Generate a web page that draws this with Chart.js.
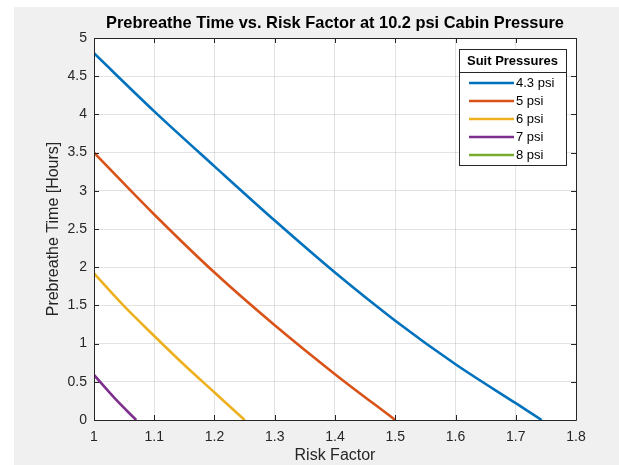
<!DOCTYPE html>
<html>
<head>
<meta charset="utf-8">
<script src="https://cdn.jsdelivr.net/npm/chart.js@4/dist/chart.umd.min.js"></script>
<style>
  html, body { margin: 0; padding: 0; background: #ffffff; }
  canvas { display: block; }
</style>
</head>
<body>
<canvas id="prebreathe" width="619" height="465"></canvas>
<script>
// --- Данные: время предварительного дыхания vs. фактор риска ---
const suitLabels = ['4.3 psi', '5 psi', '6 psi', '7 psi', '8 psi'];
const suitColors = ['#0072BD', '#D95319', '#EDB120', '#7E2F8E', '#77AC30'];

const risk43 = [1, 1.1, 1.2, 1.3, 1.4, 1.5, 1.6, 1.7, 1.743];
const time43 = [4.8, 4.04, 3.32, 2.61, 1.93, 1.3, 0.73, 0.22, 0];
const risk5 = [1, 1.1, 1.2, 1.3, 1.4, 1.5];
const time5 = [3.5, 2.69, 1.93, 1.24, 0.6, 0];
const risk6 = [1, 1.05, 1.1, 1.15, 1.2, 1.25];
const time6 = [1.92, 1.49, 1.1, 0.72, 0.36, 0];
const risk7 = [1, 1.035, 1.07];
const time7 = [0.59, 0.28, 0];
const risk8 = [];
const time8 = [];

const xTickValues = [1, 1.1, 1.2, 1.3, 1.4, 1.5, 1.6, 1.7, 1.8];
const xTickLabels = ['1', '1.1', '1.2', '1.3', '1.4', '1.5', '1.6', '1.7', '1.8'];
const yTickValues = [0, 0.5, 1, 1.5, 2, 2.5, 3, 3.5, 4, 4.5, 5];
const yTickLabels = ['0', '0.5', '1', '1.5', '2', '2.5', '3', '3.5', '4', '4.5', '5'];

const chartTitle = 'Prebreathe Time vs. Risk Factor at 10.2 psi Cabin Pressure';
const legendTitle = 'Suit Pressures';

const AXIS_COLOR = '#262626';
const FONT = '"Liberation Sans", Arial, sans-serif';

function toPoints(xs, ys) {
    return xs.map((x, i) => ({ x: x, y: ys[i] }));
}

const seriesX = [risk43, risk5, risk6, risk7, risk8];
const seriesY = [time43, time5, time6, time7, time8];

const datasets = suitLabels.map((label, i) => ({
    label: label,
    data: toPoints(seriesX[i], seriesY[i]),
    borderColor: suitColors[i],
    backgroundColor: suitColors[i],
    borderWidth: 2.6,
    pointRadius: 0,
    fill: false,
    cubicInterpolationMode: 'monotone'
}));

// --- Фон фигуры: серый, белая область осей ---
const backgroundPlugin = {
    id: 'figureBackground',
    beforeDraw(chart) {
        const { ctx, width, height, chartArea } = chart;
        ctx.save();
        ctx.fillStyle = '#ffffff';
        ctx.fillRect(0, 0, width, height);
        ctx.fillStyle = '#f0f0f0';
        ctx.fillRect(14, 7, width - 14, height - 7);
        ctx.fillStyle = '#ffffff';
        ctx.fillRect(chartArea.left, chartArea.top, chartArea.right - chartArea.left, chartArea.bottom - chartArea.top);
        ctx.restore();
    }
};

// --- Рамка осей с внутренними засечками и заголовок ---
const axesBoxPlugin = {
    id: 'axesBox',
    afterDatasetsDraw(chart) {
        const { ctx, chartArea, scales } = chart;
        const { left, right, top, bottom } = chartArea;
        const tick = 5;
        ctx.save();
        ctx.strokeStyle = AXIS_COLOR;
        ctx.lineWidth = 1;
        ctx.beginPath();
        ctx.rect(Math.round(left) + 0.5, Math.round(top) + 0.5, Math.round(right - left), Math.round(bottom - top));
        xTickValues.forEach(v => {
            const px = Math.round(scales.x.getPixelForValue(v)) + 0.5;
            ctx.moveTo(px, bottom); ctx.lineTo(px, bottom - tick);
            ctx.moveTo(px, top); ctx.lineTo(px, top + tick);
        });
        yTickValues.forEach(v => {
            const py = Math.round(scales.y.getPixelForValue(v)) + 0.5;
            ctx.moveTo(left, py); ctx.lineTo(left + tick, py);
            ctx.moveTo(right, py); ctx.lineTo(right - tick, py);
        });
        ctx.stroke();

        ctx.fillStyle = '#000000';
        ctx.font = 'bold 16.4px ' + FONT;
        ctx.textAlign = 'center';
        ctx.textBaseline = 'middle';
        ctx.fillText(chartTitle, (left + right) / 2, 23);
        ctx.restore();
    }
};

// --- Легенда в рамке с заголовком ---
const boxLegendPlugin = {
    id: 'boxLegend',
    afterDraw(chart) {
        const { ctx } = chart;
        const x0 = 459, y0 = 49, w = 107, h = 116;
        ctx.save();
        ctx.fillStyle = '#ffffff';
        ctx.fillRect(x0, y0, w, h);
        ctx.strokeStyle = AXIS_COLOR;
        ctx.lineWidth = 1;
        ctx.strokeRect(x0 + 0.5, y0 + 0.5, w, h);
        ctx.beginPath();
        ctx.moveTo(x0, 72.5);
        ctx.lineTo(x0 + w, 72.5);
        ctx.stroke();

        ctx.fillStyle = '#000000';
        ctx.font = 'bold 13px ' + FONT;
        ctx.textAlign = 'center';
        ctx.textBaseline = 'middle';
        ctx.fillText(legendTitle, x0 + w / 2, 61);

        ctx.font = '13px ' + FONT;
        ctx.textAlign = 'left';
        chart.data.datasets.forEach((ds, i) => {
            const y = 83 + i * 18;
            ctx.strokeStyle = ds.borderColor;
            ctx.lineWidth = 2.6;
            ctx.beginPath();
            ctx.moveTo(469, y);
            ctx.lineTo(514, y);
            ctx.stroke();
            ctx.fillStyle = '#000000';
            ctx.fillText(ds.label, 516, y);
        });
        ctx.restore();
    }
};

new Chart(document.getElementById('prebreathe'), {
    type: 'line',
    data: { datasets: datasets },
    options: {
        responsive: false,
        animation: false,
        devicePixelRatio: 1,
        layout: { padding: { left: 40, top: 38, right: 43, bottom: 0 } },
        plugins: {
            legend: { display: false },
            title: { display: false },
            tooltip: { enabled: false }
        },
        scales: {
            x: {
                type: 'linear',
                min: 1,
                max: 1.8,
                afterBuildTicks: scale => { scale.ticks = xTickValues.map(v => ({ value: v })); },
                afterFit: scale => { scale.height = 45; },
                ticks: {
                    color: AXIS_COLOR,
                    font: { family: FONT, size: 14 },
                    padding: 9,
                    maxRotation: 0,
                    callback: (value, index) => xTickLabels[index]
                },
                grid: { color: 'rgba(38,38,38,0.13)', drawTicks: false },
                border: { display: false },
                title: {
                    display: true,
                    text: 'Risk Factor',
                    color: AXIS_COLOR,
                    font: { family: FONT, size: 16 },
                    padding: { top: 0, bottom: 0 }
                }
            },
            y: {
                type: 'linear',
                min: 0,
                max: 5,
                afterBuildTicks: scale => { scale.ticks = yTickValues.map(v => ({ value: v })); },
                afterFit: scale => { scale.width = 54; },
                ticks: {
                    color: AXIS_COLOR,
                    font: { family: FONT, size: 14 },
                    padding: 7,
                    callback: (value, index) => yTickLabels[index]
                },
                grid: { color: 'rgba(38,38,38,0.13)', drawTicks: false },
                border: { display: false },
                title: {
                    display: true,
                    text: 'Prebreathe Time [Hours]',
                    color: AXIS_COLOR,
                    font: { family: FONT, size: 16 },
                    padding: { top: 4, bottom: 0 }
                }
            }
        }
    },
    plugins: [backgroundPlugin, axesBoxPlugin, boxLegendPlugin]
});
</script>
</body>
</html>
